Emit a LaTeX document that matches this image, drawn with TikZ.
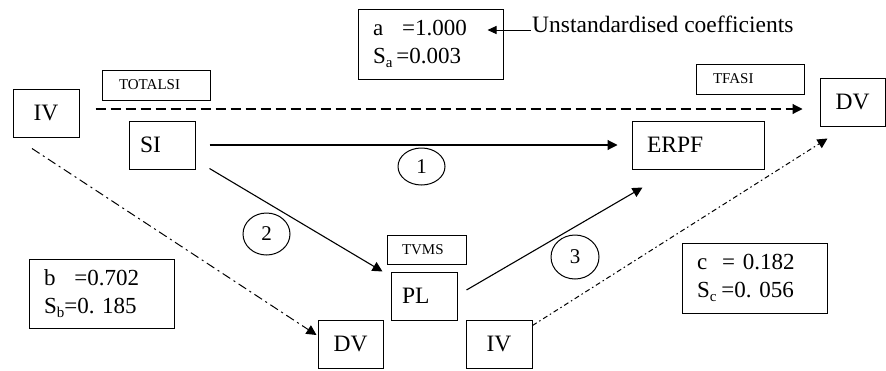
\documentclass[tikz,border=0pt]{standalone}
\usepackage{fontspec}
\setmainfont{Liberation Serif}
\usetikzlibrary{arrows.meta,shapes.geometric,calc}
\newcommand\fsz[2]{\fontsize{#1}{#2}\selectfont}
\newcommand\subtxt[1]{\raisebox{-4pt}{\fsz{15}{15}#1}}
\frenchspacing

\begin{document}
\begin{tikzpicture}[x=1pt,y=-1pt,
  every node/.style={inner sep=0pt},
  var/.style={draw, line width=1pt, minimum height=48pt, align=left, font=\fsz{23.5}{28}},
  tag/.style={draw, line width=1pt, minimum height=30pt, align=left, font=\fsz{15}{18},
              inner xsep=17pt, text width=74pt},
  coef/.style={draw, line width=1pt, minimum height=70pt, text width=115pt,
               inner xsep=15pt, align=left, font=\fsz{23}{28}},
  num/.style={draw, ellipse, line width=1pt, font=\fsz{21}{21}},
  link/.style={line width=1.1pt, -{Triangle[length=10pt,width=10pt]}},
  longdash/.style={dash pattern=on 10pt off 5pt},
  dashdot/.style={dash pattern=on 9pt off 4pt on 2pt off 4pt},
  finedashdot/.style={dash pattern=on 5pt off 3pt on 1.5pt off 3pt}]
\useasboundingbox (0,0) rectangle (886,370);

% variables
\node[var, minimum width=66pt, align=center] (ivA) at (46,113) {IV};
\node[var, inner xsep=11pt, text width=44pt] (si) at (162,145) {SI};
\node[var, inner xsep=15pt, text width=102pt] (erpf) at (698,145) {ERPF};
\node[var, minimum width=65pt, align=center] (dvA) at (852.5,102) {DV};
\node[var, inner xsep=11pt, text width=44pt] (pl) at (424,296) {PL};
\node[var, minimum width=65pt, align=center] (dvB) at (350.5,344) {DV};
\node[var, minimum width=66pt, align=center] (ivB) at (499,344) {IV};

% scale tags
\node[tag] (totalsi) at (156,85) {TOTALSI};
\node[tag] (tfasi) at (750,79) {TFASI};
\node[tag, inner xsep=15pt, text width=49pt, minimum height=29pt] (tvms) at (426.5,249.5) {TVMS};

% coefficient boxes
\node[coef] (abox) at (430.5,44) {a\hspace{19pt}=1.000\\S\subtxt{a}\hspace{4pt}=0.003};
\node[coef, minimum height=69pt] (bbox) at (101.5,293.5) {b\hspace{19pt}=0.702\\S\subtxt{b}=0. 185};
\node[coef] (cbox) at (754.5,278) {c\hspace{15pt}= 0.182\\S\subtxt{c}\hspace{5pt}=0. 056};

\node[anchor=base west, font=\fsz{23.5}{28}] (note) at (532,32) {Unstandardised coefficients};

% path numbers
\node[num, minimum width=47pt, minimum height=37pt] (n1) at (421.5,166.5) {1};
\node[num, minimum width=47pt, minimum height=42pt] (n2) at (266.5,234) {2};
\node[num, minimum width=48pt, minimum height=44pt] (n3) at (575,257) {3};

% connectors
\draw[link, longdash] ($(ivA.east)+(16,-4)$) -- ($(dvA.west)+(-17,7)$);
\draw[link] ($(si.east)+(14,0)$) -- ($(erpf.west)+(-14,0)$);
\draw[link] ($(si.south east)+(14,-1)$) -- ($(pl.north west)+(-8,0)$);
\draw[link] ($(pl.east)+(9,-6)$) -- ($(erpf.south west)+(11,18)$);
\draw[link, line width=1pt, dashdot] ($(ivA.south)+(-14,11)$) -- ($(dvB.west)+(-1,-9)$);
\draw[link, line width=1pt, finedashdot] ($(ivB.north east)+(0,6)$) -- ($(dvA.south west)+(8,12)$);
\draw[line width=1pt, -{Triangle[length=9pt,width=8pt]}] ($(note.base west)+(-1,-2)$) -- ($(abox.east)+(-16,-14)$);
\end{tikzpicture}
\end{document}
